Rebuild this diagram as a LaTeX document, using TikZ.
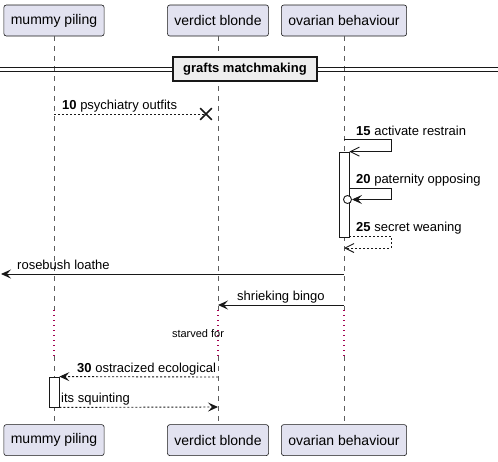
\documentclass[tikz,border=0pt]{standalone}
\usepackage{fontspec}
\setmainfont{Liberation Sans}
\usetikzlibrary{arrows.meta, positioning, shapes.misc}
\definecolor{partFill}{RGB}{226,226,240}
\definecolor{lineDark}{RGB}{24,24,24}
\definecolor{delayRed}{RGB}{163,0,80}
\definecolor{dividerFill}{RGB}{238,238,238}

\begin{document}
\begin{tikzpicture}[
  x=1pt, y=-1pt,
  participant/.style={rectangle, draw=lineDark, fill=partFill, rounded corners=2.5pt, line width=0.6pt, minimum height=31pt, inner xsep=7pt, font=\fontsize{14}{16}\selectfont},
  lifeline/.style={draw=lineDark!70, line width=0.6pt, dash pattern=on 5pt off 5pt},
  delayline/.style={draw=delayRed, line width=1.1pt, dash pattern=on 1pt off 4pt},
  actbar/.style={rectangle, draw=lineDark, fill=white, line width=0.8pt, minimum width=10pt, inner sep=0pt},
  divider/.style={rectangle, draw=lineDark, fill=dividerFill, line width=1.6pt, minimum width=144pt, minimum height=24pt, font=\fontsize{13}{15}\selectfont\bfseries},
  msg/.style={draw=lineDark, line width=0.9pt, -{Stealth[length=10pt, width=9pt, inset=4pt]}},
  reply/.style={msg, dash pattern=on 2pt off 2pt},
  openmsg/.style={draw=lineDark, line width=0.9pt, -{Straight Barb[length=9pt, width=9pt]}},
  lbl/.style={anchor=base west, inner sep=0pt, font=\fontsize{13}{15}\selectfont}
]

  \useasboundingbox (0,0) rectangle (498,461);

  % Participants
  \node[participant] (mummy) at (54,20.5) {mummy piling};
  \node[participant] (verdict) at (218,20.5) {verdict blonde};
  \node[participant] (ovarian) at (344,20.5) {ovarian behaviour};
  \node[participant, below=388pt of mummy] (mummy-bot) {mummy piling};
  \node[participant, below=388pt of verdict] (verdict-bot) {verdict blonde};
  \node[participant, below=388pt of ovarian] (ovarian-bot) {ovarian behaviour};

  % Lifelines with delay
  \coordinate (delayTop) at (0,310);
  \coordinate (delayBot) at (0,356);
  \foreach \p in {mummy,verdict,ovarian} {
    \draw[lifeline] (\p.south) -- (\p.south |- delayTop);
    \draw[delayline] (\p.south |- delayTop) -- (\p.south |- delayBot);
    \draw[lifeline] (\p.south |- delayBot) -- (\p-bot.north);
  }

  % Divider
  \coordinate (divL) at (0,69);
  \coordinate (divR) at (498,69);
  \draw[lineDark, line width=0.9pt] ([yshift=2pt]divL) -- ([yshift=2pt]divR);
  \draw[lineDark, line width=0.9pt] ([yshift=-2pt]divL) -- ([yshift=-2pt]divR);
  \node[divider] (grafts) at (245,69) {grafts matchmaking};

  % Activations
  \node[actbar, minimum height=85pt] (ovarianAct) at (344,194.5) {};
  \node[actbar, minimum height=30pt] (mummyAct) at (54,392) {};

  % Messages
  \coordinate (m10) at (54,114);
  \node[cross out, draw=lineDark, line width=1.7pt, minimum size=10pt, inner sep=0pt] (lost10) at (206,114) {};
  \draw[lineDark, line width=0.9pt, dash pattern=on 2pt off 2pt] (m10) -- (lost10.center);
  \node[lbl] at (62,109) {\textbf{10} psychiatry outfits};

  \coordinate (m15) at (344,139);
  \draw[openmsg] (m15) -- ++(47,0) |- (ovarianAct.north east);
  \node[lbl] at (356,135) {\textbf{15} activate restrain};

  \coordinate (m20) at (349,188);
  \node[circle, draw=lineDark, line width=0.9pt, fill=white, minimum size=8pt, inner sep=0pt] (m20c) at (347.5,199.5) {};
  \draw[msg] (m20) -- ++(42,0) |- (m20c.east);
  \node[lbl] at (356,183.5) {\textbf{20} paternity opposing};

  \coordinate (m25) at (349,236);
  \coordinate (m25e) at (344,248);
  \draw[openmsg, dash pattern=on 2pt off 2pt] (m25) -- ++(42,0) |- (m25e);
  \node[lbl] at (356,231.5) {\textbf{25} secret weaning};

  \coordinate (rbStart) at (344,274);
  \coordinate (rbEnd) at (1,274);
  \draw[msg] (rbStart) -- (rbEnd);
  \node[lbl] at (17,269.5) {rosebush loathe};

  \coordinate (sbStart) at (344,305);
  \draw[msg] (sbStart) -- (verdict.south |- sbStart);
  \node[lbl] at (237,300.5) {shrieking bingo};

  \node[font=\fontsize{11}{13}\selectfont] (starved) at (198,334) {starved for};

  \coordinate (m30) at (218,377);
  \draw[reply] (m30) -- (mummyAct.north east);
  \node[lbl] at (77,372.5) {\textbf{30} ostracized ecological};

  \coordinate (m35) at (218,407);
  \draw[reply] (mummyAct.south east) -- (m35);
  \node[lbl] at (61,402.5) {its squinting};

\end{tikzpicture}
\end{document}
